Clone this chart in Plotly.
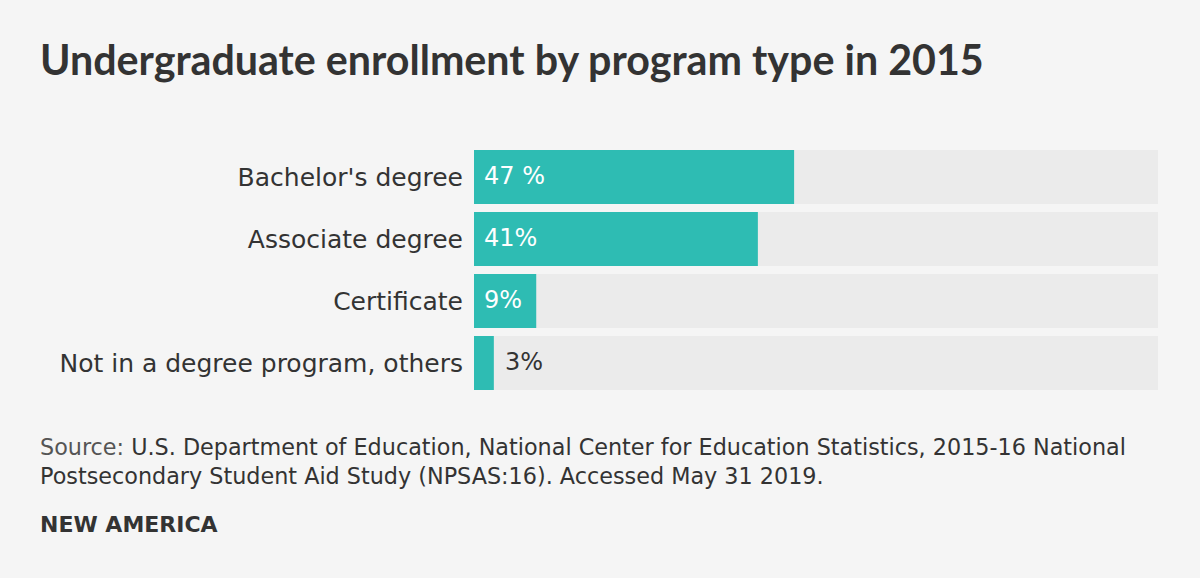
import plotly.graph_objects as go

categories = ["Bachelor's degree", "Associate degree", "Certificate", "Not in a degree program, others"]
values = [46.8, 41.5, 9.1, 2.9]
value_labels = ["47 %", "41%", "9%", "3%"]
full_scale = [100, 100, 100, 100]

TEAL = "#2ebcb3"
TRACK = "#ebebeb"
BG = "#f5f5f5"
DARK = "#333333"
FONT = "DejaVu Sans"
TITLE_FONT = "Lato"

W, H = 1200, 578
L, R, T, B = 474, 42, 146, 184

fig = go.Figure()
fig.add_trace(go.Bar(y=categories, x=full_scale, orientation="h", marker=dict(color=TRACK, line=dict(width=0)),
                     hoverinfo="skip", showlegend=False))
fig.add_trace(go.Bar(y=categories, x=values, orientation="h", marker=dict(color=TEAL, line=dict(width=0)),
                     showlegend=False))

for cat, v, lab in zip(categories, values, value_labels):
    inside = v >= 5
    fig.add_annotation(x=0 if inside else v, y=cat, xref="x", yref="y", text=lab, showarrow=False,
                       xanchor="left", yanchor="middle", xshift=8 if inside else 9, yshift=1,
                       font=dict(family=FONT, size=24, color="#ffffff" if inside else DARK))

paper_notes = [
    dict(x=38, y=59, text="<b>Undergraduate enrollment by program type in 2015</b>",
         font=dict(family=TITLE_FONT, size=41.2, color=DARK)),
    dict(x=38, y=461,
         text="<span style='color:#555555'>Source:</span> U.S. Department of Education, National Center for Education Statistics, 2015-16 National<br>Postsecondary Student Aid Study (NPSAS:16). Accessed May 31 2019.",
         font=dict(family=FONT, size=22.3, color=DARK)),
    dict(x=38, y=524, text="<b>NEW AMERICA</b>", font=dict(family=FONT, size=22, color=DARK)),
]
for n in paper_notes:
    fig.add_annotation(x=(n["x"] - L) / (W - L - R), y=1 - (n["y"] - T) / (H - T - B), xref="paper", yref="paper",
                       text=n["text"], showarrow=False, xanchor="left", yanchor="middle", align="left",
                       font=n["font"])

fig.update_layout(
    width=W, height=H, barmode="overlay", bargap=8 / 62,
    margin=dict(l=L, r=R, t=T, b=B, pad=0),
    paper_bgcolor=BG, plot_bgcolor=BG,
    xaxis=dict(range=[0, 100], visible=False, fixedrange=True),
    yaxis=dict(autorange="reversed", showgrid=False, zeroline=False, showline=False, ticks="",
               ticklabelstandoff=10, tickfont=dict(family=FONT, size=25, color=DARK), fixedrange=True),
    font=dict(family=FONT),
)

fig.write_html("out.html", config={"displayModeBar": False},
               post_script="document.body.style.margin='0';document.body.style.background='%s';" % BG)
